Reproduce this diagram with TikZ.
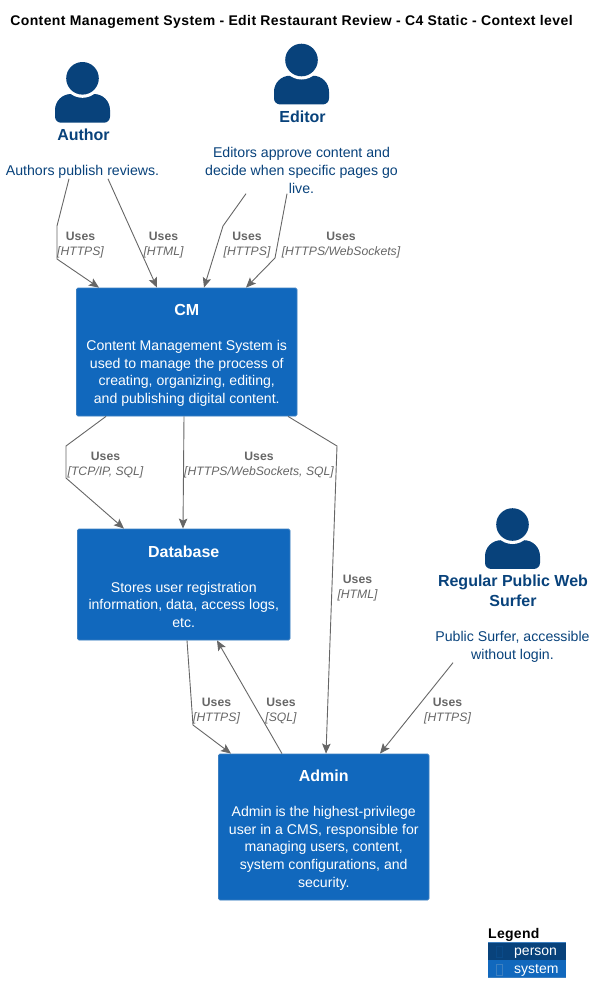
\documentclass[tikz,border=0pt]{standalone}
\usepackage{fontspec}
\setmainfont{Liberation Sans}
\usetikzlibrary{arrows.meta}
\definecolor{persona}{HTML}{08427B}
\definecolor{systema}{HTML}{1168BD}
\definecolor{systemb}{HTML}{3C7FC0}
\definecolor{linegray}{HTML}{666666}
\tikzset{
  x=1pt,y=-1pt,
  conn/.style={draw=linegray,line width=0.9pt,-{Stealth[length=10pt,width=8.5pt,inset=2pt]}},
  sysbox/.style={draw=systemb,line width=0.8pt,fill=systema,rounded corners=1.5pt,text=white,align=center,inner sep=0pt,font=\fontsize{14.1}{17.8}\selectfont},
  pname/.style={text=persona,font=\fontsize{16}{20}\selectfont\bfseries,align=center,inner sep=0pt},
  pdesc/.style={text=persona,font=\fontsize{14.15}{17.8}\selectfont,align=center,inner sep=0pt},
  rel/.style={text=linegray,align=center,inner sep=0pt,font=\fontsize{12.2}{15}\selectfont},
  personicon/.pic={
    \fill[persona] (0,44.4) [rounded corners=6pt] -- (-27.5,44.4) [rounded corners=16pt] -- (-27.5,15.7) -- (27.5,15.7) [rounded corners=6pt] -- (27.5,44.4) -- cycle;
    \fill[white] (0,0) circle (19.5);
    \fill[persona] (0,0) circle (16.3);
  },
}
\newcommand{\usesrel}[1]{{\bfseries Uses}\\{\itshape [#1]}}
\newcommand{\boxtitle}[2]{\rule{0pt}{#1pt}{\fontsize{16}{20}\selectfont\bfseries #2}}
\begin{document}
\begin{tikzpicture}
\useasboundingbox (0,0) rectangle (596,1002);
\node[anchor=center,inner sep=0pt,font=\fontsize{14}{16}\selectfont\bfseries\addfontfeature{LetterSpace=2.9}] (title) at (291.5,22) {Content Management System - Edit Restaurant Review - C4 Static - Context level};

\pic at (82.5,78.3) {personicon};
\pic at (301.5,60) {personicon};
\pic at (512.5,524.5) {personicon};

\node[pname] (author) at (83.5,135) {Author};
\node[pdesc] (authdesc) at (82.5,172) {Authors publish reviews.};
\node[pname] (editor) at (302.5,116.5) {Editor};
\node[pdesc] (eddesc) at (301.5,170.5) {Editors approve content and\\decide when specific pages go\\live.};
\node[pname] (surfer) at (513,591) {Regular Public Web\\Surfer};
\node[pdesc] (surfdesc) at (512.5,647) {Public Surfer, accessible\\without login.};

\node[sysbox,minimum width=220.5pt,minimum height=128pt] (cm) at (186.75,352) {\boxtitle{18}{CM}\\[17pt]Content Management System is\\used to manage the process of\\creating, organizing, editing,\\and publishing digital content.};
\node[sysbox,minimum width=212.5pt,minimum height=111pt] (db) at (183.75,584.5) {\boxtitle{16}{Database}\\[17pt]Stores user registration\\information, data, access logs,\\etc.};
\node[sysbox,minimum width=210.5pt,minimum height=146pt] (admin) at (323.75,827) {\boxtitle{18}{Admin}\\[17pt]Admin is the highest-privilege\\user in a CMS, responsible for\\managing users, content,\\system configurations, and\\security.};

% way points
\coordinate (a1) at (57,226); \coordinate (a2) at (57,259);
\coordinate (e1) at (223,226);
\coordinate (e2) at (275,258);
\coordinate (c1) at (66,446); \coordinate (c2) at (66,478);
\coordinate (c3) at (337,446);
\coordinate (d1) at (193,725);

\draw[conn] ([xshift=-13.5pt]authdesc.south) -- (a1) -- (a2) -- ([xshift=-87.75pt]cm.north);
\draw[conn] ([xshift=25.5pt]authdesc.south) -- ([xshift=-29.75pt]cm.north);
\draw[conn] ([xshift=-55.5pt]eddesc.south) -- (e1) -- ([xshift=17.25pt]cm.north);
\draw[conn] ([xshift=-14.5pt]eddesc.south) -- (e2) -- ([xshift=59.25pt]cm.north);
\draw[conn] ([xshift=-80.75pt]cm.south) -- (c1) -- (c2) -- ([xshift=-59.75pt]db.north);
\draw[conn] ([xshift=-2.75pt]cm.south) -- ([xshift=-0.75pt]db.north);
\draw[conn] ([xshift=101.25pt]cm.south) -- (c3) -- ([xshift=2.25pt]admin.north);
\draw[conn] ([xshift=3.25pt]db.south) -- (d1) -- ([xshift=-92.75pt]admin.north);
\draw[conn] ([xshift=-41.75pt]admin.north) -- ([xshift=33.25pt]db.south);
\draw[conn] ([xshift=-59.5pt]surfdesc.south) -- ([xshift=56.25pt]admin.north);

\node[rel] (r1) at (80.5,245) {\usesrel{HTTPS}};
\node[rel] (r2) at (163.5,245) {\usesrel{HTML}};
\node[rel] (r3) at (247,245) {\usesrel{HTTPS}};
\node[rel] (r4) at (341,245) {\usesrel{HTTPS/WebSockets}};
\node[rel] (r5) at (105.5,465) {\usesrel{TCP/IP, SQL}};
\node[rel] (r6) at (259,465) {\usesrel{HTTPS/WebSockets, SQL}};
\node[rel] (r7) at (357.5,588) {\usesrel{HTML}};
\node[rel] (r8) at (216.5,711) {\usesrel{HTTPS}};
\node[rel] (r9) at (281,711) {\usesrel{SQL}};
\node[rel] (r10) at (447.5,711) {\usesrel{HTTPS}};

% legend
\node[anchor=west,inner sep=0pt,font=\fontsize{14}{16}\selectfont\bfseries\addfontfeature{LetterSpace=2}] (legend) at (488,935) {Legend};
\fill[persona] (488,942) rectangle (566,960);
\fill[systema] (488,960) rectangle (566,977);
\draw[systemb,line width=0.5pt] (488,942) -- (566,942);
\draw[systemb,line width=0.5pt] (488,977) -- (566,977);
\draw[persona!80!systema,line width=0.5pt] (496,946) rectangle (502,957);
\draw[systemb,line width=0.5pt] (496,964) rectangle (502,975);
\node[anchor=west,inner sep=0pt,text=white,font=\fontsize{14}{16}\selectfont] (legp) at (514,953) {person};
\node[anchor=west,inner sep=0pt,text=white,font=\fontsize{14}{16}\selectfont] (legs) at (514,970.5) {system};
\end{tikzpicture}
\end{document}
